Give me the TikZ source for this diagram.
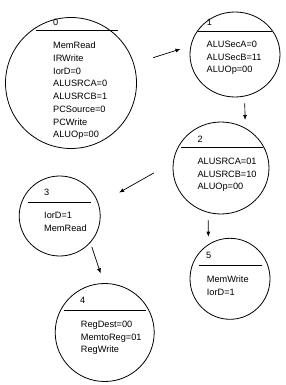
\documentclass[tikz,border=0pt]{standalone}
\usepackage{fontspec}
\setmainfont{Liberation Sans}
\usetikzlibrary{arrows.meta,shapes.geometric}

\begin{document}
\begin{tikzpicture}[x=1pt, y=-1pt,
    state/.style={draw, ellipse, line width=0.8pt, inner sep=0pt},
    stnum/.style={anchor=north west, inner sep=0pt, font=\fontsize{9.2}{12.7}\selectfont},
    sttext/.style={anchor=north west, inner sep=0pt, align=left, font=\fontsize{9.2}{12.7}\selectfont},
    trans/.style={-{Latex[length=5pt,width=4pt]}, line width=0.7pt}]
    \useasboundingbox (0,0) rectangle (285,385);

    % State outlines
    \node[state, minimum width=131pt, minimum height=131pt] (s0) at (71,83) {};
    \node[state, minimum width=90pt, minimum height=85pt]   (s1) at (235,54.5) {};
    \node[state, minimum width=96pt, minimum height=92pt]   (s2) at (221,168) {};
    \node[state, minimum width=81pt, minimum height=80pt]   (s3) at (59.7,216) {};
    \node[state, minimum width=99pt, minimum height=98pt]   (s4) at (104.7,332.5) {};
    \node[state, minimum width=80pt, minimum height=81pt]   (s5) at (230,278.8) {};

    % State 0
    \node[stnum] (n0) at (53,19.3) {0};
    \draw[line width=0.8pt] (36,30.7) -- (118,30.7);
    \node[sttext] (t0) at (53,42) {MemRead\\IRWrite\\IorD=0\\ALUSRCA=0\\ALUSRCB=1\\PCSource=0\\PCWrite\\ALUOp=00};

    % State 1
    \node[stnum] (n1) at (206.7,19.3) {1};
    \draw[line width=0.8pt] (198,31) -- (272,31);
    \node[sttext] (t1) at (206.5,40.7) {ALUSecA=0\\ALUSecB=11\\ALUOp=00};

    % State 2
    \node[stnum] (n2) at (197.3,135.7) {2};
    \draw[line width=0.8pt] (181,147.7) -- (263,147.7);
    \node[sttext] (t2) at (197.3,157.7) {ALUSRCA=01\\ALUSRCB=10\\ALUOp=00};

    % State 3
    \node[stnum] (n3) at (44,189.3) {3};
    \draw[line width=0.8pt] (28.3,202.3) -- (90.7,202.3);
    \node[sttext] (t3) at (44,212.3) {IorD=1\\MemRead};

    % State 4
    \node[stnum] (n4) at (80,297.3) {4};
    \draw[line width=0.8pt] (64,310) -- (146,310);
    \node[sttext] (t4) at (80.7,320.7) {RegDest=00\\MemtoReg=01\\RegWrite};

    % State 5
    \node[stnum] (n5) at (206,251.7) {5};
    \draw[line width=0.8pt] (199,265) -- (262.3,265);
    \node[sttext] (t5) at (206.7,275.7) {MemWrite\\IorD=1};

    % Transitions
    \draw[trans, shorten <=20pt, shorten >=10.5pt] (s0.17) -- (s1.169);
    \draw[trans, shorten <=6.9pt, shorten >=7.8pt] (s1.-77.4) -- (s2.59.9);
    \draw[trans, shorten <=21.9pt, shorten >=23.3pt] (s2.173.4) -- (s3.17.9);
    \draw[trans, shorten <=4.4pt, shorten >=10.3pt] (s3.-41.7) -- (s4.91.6);
    \draw[trans, shorten <=7.6pt, shorten >=7.5pt] (s2.-106) -- (s5.122.5);
\end{tikzpicture}
\end{document}
